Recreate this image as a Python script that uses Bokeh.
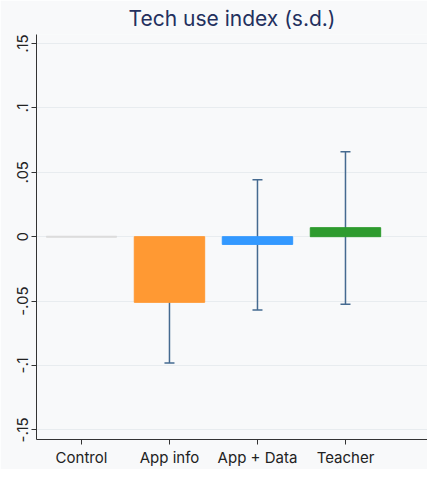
from bokeh.plotting import figure
from bokeh.models import ColumnDataSource, Whisker, TeeHead, FixedTicker, Range1d
from bokeh.embed import file_html
from bokeh.resources import INLINE

categories = ["Control", "App info", "App + Data", "Teacher"]
positions = [1, 2, 3, 4]
estimates = [0.0, -0.051, -0.006, 0.007]
ci_low = [-0.098, -0.057, -0.0525]
ci_high = [-0.0043, 0.0443, 0.066]
ci_positions = [2, 3, 4]
colors = ["#dcdcdc", "#ff9933", "#3399ff", "#2e9b2e"]
y_ticks = [-0.15, -0.1, -0.05, 0, 0.05, 0.1, 0.15]
y_tick_labels = ["-.15", "-.1", "-.05", "0", ".05", ".1", ".15"]

FONT = "Inter"
BG = "#f8f9fa"
ERR = "#456a90"

p = figure(width=427, height=469, output_backend="svg", toolbar_location=None,
           x_range=Range1d(0.489, 4.932), y_range=Range1d(-0.1575, 0.157),
           title="Tech use index (s.d.)",
           min_border_left=36, min_border_right=0, min_border_top=33, min_border_bottom=23)

p.background_fill_color = BG
p.border_fill_color = BG
p.outline_line_color = None

p.title.text_font = FONT
p.title.text_font_size = "21px"
p.title.text_font_style = "normal"
p.title.text_color = "#23305e"
p.title.align = "center"
p.title.offset = 0
p.title.standoff = 7

bars = ColumnDataSource(dict(x=positions, top=estimates, color=colors))
p.vbar(x="x", top="top", bottom=0, width=0.8, fill_color="color", line_color="color",
       line_width=1, source=bars)
# control bar is zero height: draw its outline visibly
p.segment(x0=[positions[0] - 0.4], x1=[positions[0] + 0.4], y0=[estimates[0]], y1=[estimates[0]],
          line_color=colors[0], line_width=2)

ci = ColumnDataSource(dict(x=ci_positions, lower=ci_low, upper=ci_high))
w = Whisker(base="x", lower="lower", upper="upper", source=ci,
            line_color=ERR, line_width=1.5,
            lower_head=TeeHead(size=10, line_color=ERR, line_width=1.5),
            upper_head=TeeHead(size=10, line_color=ERR, line_width=1.5))
p.add_layout(w)

p.xaxis.ticker = FixedTicker(ticks=positions)
p.xaxis.major_label_overrides = {pos: lab for pos, lab in zip(positions, categories)}
p.yaxis.ticker = FixedTicker(ticks=y_ticks)
p.yaxis.major_label_overrides = {t: lab for t, lab in zip(y_ticks, y_tick_labels)}
p.yaxis.major_label_orientation = "vertical"

for ax in (p.xaxis, p.yaxis):
    ax.axis_line_color = "#333333"
    ax.axis_line_width = 1
    ax.major_tick_line_color = "#333333"
    ax.major_tick_out = 5
    ax.major_tick_in = 0
    ax.minor_tick_line_color = None
    ax.major_label_text_font = FONT
    ax.major_label_text_font_size = "15px"
    ax.major_label_text_color = "#222222"
    ax.major_label_standoff = 3

p.xgrid.grid_line_color = None
p.ygrid.grid_line_color = "#e8ecef"
p.ygrid.grid_line_width = 1

open("out.html", "w").write(file_html(p, INLINE))
